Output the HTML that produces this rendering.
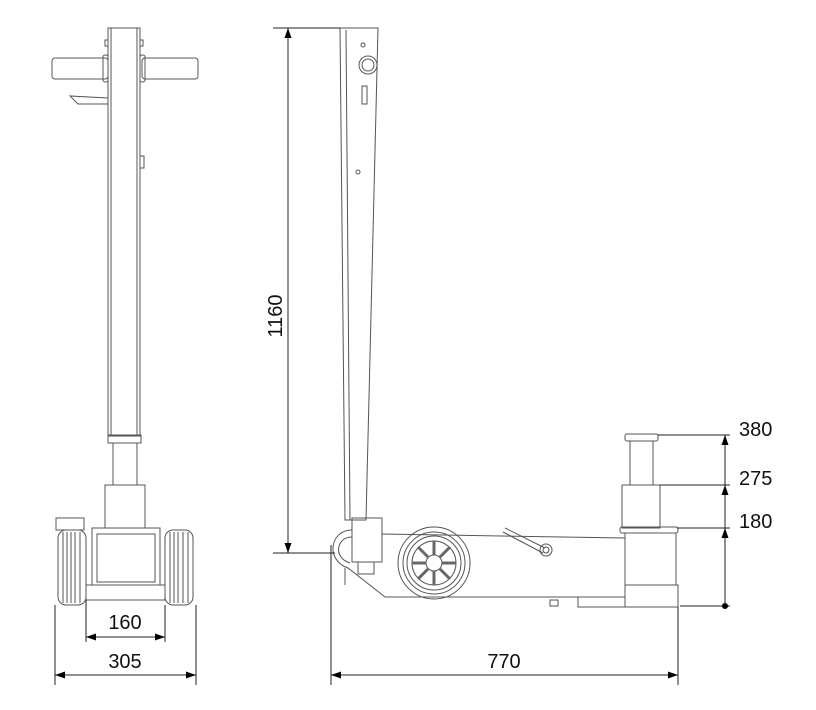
<!DOCTYPE html>
<html><head><style>html,body{margin:0;padding:0;background:#fff}svg{display:block}text{font-family:"Liberation Sans","DejaVu Sans",sans-serif;font-size:20px;fill:#111}</style></head>
<body>
<svg width="816" height="710" viewBox="0 0 816 710" xmlns="http://www.w3.org/2000/svg">
<defs>
<marker id="a" viewBox="0 0 10 10" refX="10" refY="5" markerWidth="10" markerHeight="10" markerUnits="userSpaceOnUse" orient="auto-start-reverse"><path d="M0,1.5 L10,5 L0,8.5z" fill="#000"/></marker>
</defs>
<g fill="none" stroke="#555" stroke-width="1">
<!-- LEFT VIEW -->
<rect x="108" y="28" width="32" height="408"/>
<line x1="111" y1="28" x2="111" y2="436"/><line x1="137" y1="28" x2="137" y2="436"/>
<rect x="52" y="58" width="56" height="21" rx="3"/>
<rect x="142" y="58" width="56" height="21" rx="3"/>
<rect x="103" y="55" width="5" height="27" rx="2"/><rect x="140" y="55" width="5" height="27" rx="2"/>
<path d="M108,98 L70,96 L78,104 L108,104"/>
<rect x="105" y="40" width="3" height="6"/><rect x="140" y="40" width="3" height="6"/>
<rect x="140" y="156" width="4" height="12"/>
<rect x="108" y="435" width="33" height="8"/>
<rect x="113" y="443" width="24" height="42"/>
<rect x="105" y="485" width="40" height="43"/>
<rect x="92" y="528" width="68" height="57"/>
<rect x="97" y="534" width="58" height="48"/>
<rect x="86" y="585" width="79" height="15"/>
<rect x="56" y="518" width="28" height="12"/>
<rect x="58" y="530" width="28" height="75" rx="8"/>
<line x1="63" y1="532" x2="63" y2="603"/><line x1="67" y1="532" x2="67" y2="603"/><line x1="71" y1="532" x2="71" y2="603"/><line x1="75" y1="532" x2="75" y2="603"/><line x1="80" y1="532" x2="80" y2="603"/>
<rect x="165" y="530" width="28" height="75" rx="8"/>
<line x1="170" y1="532" x2="170" y2="603"/><line x1="174" y1="532" x2="174" y2="603"/><line x1="178" y1="532" x2="178" y2="603"/><line x1="183" y1="532" x2="183" y2="603"/><line x1="188" y1="532" x2="188" y2="603"/>
<!-- RIGHT VIEW handle -->
<path d="M340,28 L378,28 L366,520 L345,520 Z"/>
<line x1="346" y1="30" x2="350" y2="520"/>
<circle cx="368" cy="65" r="9"/><circle cx="368" cy="65" r="6"/>
<rect x="362" y="86" width="5" height="18"/>
<circle cx="358" cy="172" r="2"/><circle cx="363" cy="45" r="2"/>
<!-- body -->
<rect x="352" y="518" width="30" height="44"/>
<rect x="358" y="562" width="16" height="12"/>
<path d="M352,530 C330,530 325,560 348,568 L385,597 L625,597"/>
<path d="M352,537 C336,537 333,558 350,563"/>
<line x1="382" y1="534" x2="625" y2="538"/>
<line x1="345" y1="568" x2="345" y2="585"/>
<circle cx="434" cy="563" r="36"/><circle cx="434" cy="563" r="31"/><circle cx="434" cy="563" r="27"/><circle cx="434" cy="563" r="22"/><circle cx="434" cy="563" r="8"/>
<g stroke-width="3" stroke="#666">
<line x1="434" y1="541" x2="434" y2="555"/><line x1="434" y1="571" x2="434" y2="585"/><line x1="412" y1="563" x2="426" y2="563"/><line x1="442" y1="563" x2="456" y2="563"/>
<line x1="418" y1="547" x2="428" y2="557"/><line x1="440" y1="569" x2="450" y2="579"/><line x1="450" y1="547" x2="440" y2="557"/><line x1="428" y1="569" x2="418" y2="579"/>
</g>
<path d="M505,528 L545,548"/><path d="M503,532 L543,553"/><circle cx="546" cy="550" r="6"/><circle cx="546" cy="550" r="3"/>
<rect x="550" y="600" width="8" height="6"/>
<!-- ram -->
<rect x="625" y="434" width="33" height="7" rx="2"/>
<rect x="630" y="441" width="23" height="44"/>
<rect x="622" y="485" width="38" height="43"/>
<rect x="620" y="527" width="58" height="6" rx="2"/>
<rect x="625" y="533" width="51" height="52"/>
<rect x="625" y="585" width="53" height="22"/>
<rect x="578" y="597" width="47" height="10"/>
<!-- dimension lines -->
<g stroke="#222">
<line x1="86" y1="600" x2="86" y2="642"/><line x1="165" y1="605" x2="165" y2="642"/>
<line x1="86" y1="637" x2="165" y2="637" marker-start="url(#a)" marker-end="url(#a)"/>
<line x1="55" y1="605" x2="55" y2="685"/><line x1="196" y1="605" x2="196" y2="685"/>
<line x1="55" y1="675" x2="196" y2="675" marker-start="url(#a)" marker-end="url(#a)"/>
<line x1="273" y1="28" x2="340" y2="28"/><line x1="273" y1="553" x2="335" y2="553"/>
<line x1="288" y1="28" x2="288" y2="553" marker-start="url(#a)" marker-end="url(#a)"/>
<line x1="331" y1="545" x2="331" y2="685"/><line x1="678" y1="607" x2="678" y2="685"/>
<line x1="331" y1="675" x2="678" y2="675" marker-start="url(#a)" marker-end="url(#a)"/>
<line x1="658" y1="435" x2="730" y2="435"/><line x1="660" y1="485" x2="730" y2="485"/><line x1="677" y1="528" x2="730" y2="528"/><line x1="680" y1="606" x2="730" y2="606"/>
<line x1="725" y1="485" x2="725" y2="435" marker-end="url(#a)"/>
<line x1="725" y1="528" x2="725" y2="485" marker-end="url(#a)"/>
<line x1="725" y1="606" x2="725" y2="528" marker-end="url(#a)"/>
</g>
</g>
<circle cx="725" cy="606" r="3" fill="#000"/>
<text x="125" y="629" text-anchor="middle">160</text>
<text x="125" y="668" text-anchor="middle">305</text>
<text x="504" y="668" text-anchor="middle">770</text>
<text transform="translate(282,316) rotate(-90)" text-anchor="middle">1160</text>
<text x="739" y="436">380</text>
<text x="739" y="485">275</text>
<text x="739" y="528">180</text>
</svg>
</body></html>
